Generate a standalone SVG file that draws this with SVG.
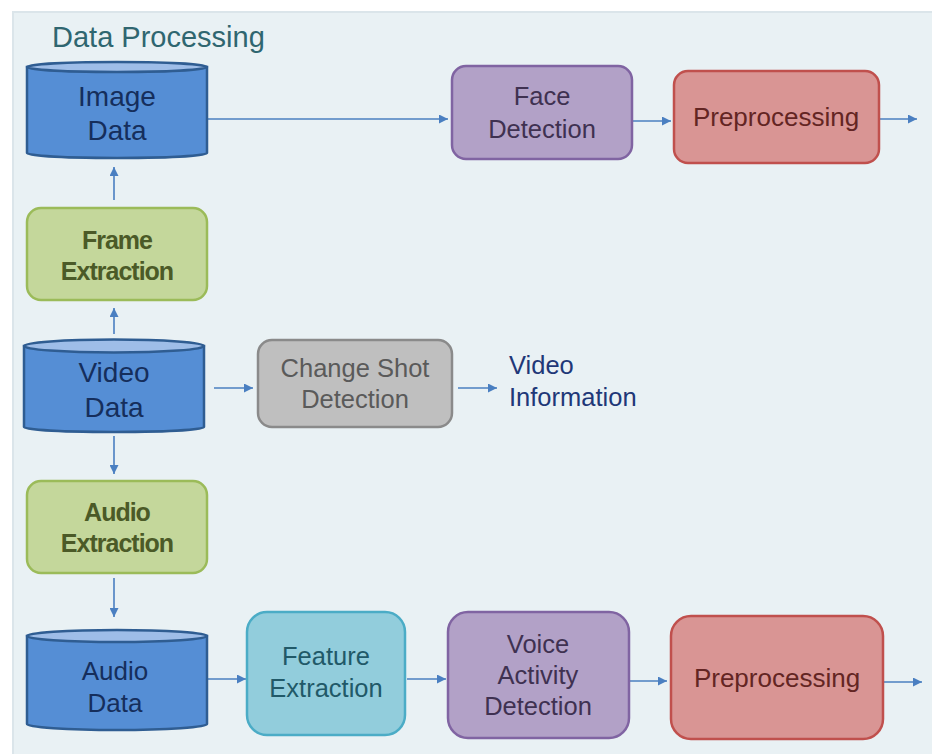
<svg xmlns="http://www.w3.org/2000/svg" width="932" height="754" viewBox="0 0 932 754">
  <defs>
    <marker id="arrow" viewBox="0 0 10 10" refX="10" refY="5" markerWidth="10" markerHeight="9" markerUnits="userSpaceOnUse" orient="auto">
      <path d="M0,0 L10,5 L0,10 z" fill="#4a7fc1"/>
    </marker>
    <style>
      text { font-family: "Liberation Sans", Arial, sans-serif; text-anchor: middle; }
      .conn { stroke: #4a7fc1; stroke-width: 1.6; fill: none; marker-end: url(#arrow); }
      .cyl-body { fill: #558ed5; stroke: #2f5d92; stroke-width: 2.5; }
      .cyl-top { fill: #9ebde8; stroke: #2f5d92; stroke-width: 2.5; }
      .cyl-text { fill: #152e5c; font-size: 28px; }
      .green { fill: #c4d79b; stroke: #9bbb59; stroke-width: 2.5; }
      .green-text { fill: #4b5a27; font-size: 25px; font-weight: bold; letter-spacing: -1px; }
      .grey { fill: #bfbfbf; stroke: #8a8a8a; stroke-width: 2.5; }
      .grey-text { fill: #5a5a5a; font-size: 25.5px; }
      .purple { fill: #b2a1c7; stroke: #8064a2; stroke-width: 2.5; }
      .purple-text { fill: #3f3151; font-size: 25.5px; }
      .red { fill: #d99594; stroke: #c0504d; stroke-width: 2.5; }
      .red-text { fill: #632523; font-size: 26px; }
      .cyan { fill: #92cddc; stroke: #4bacc6; stroke-width: 2.5; }
      .cyan-text { fill: #215968; font-size: 25.5px; }
    </style>
  </defs>

  <!-- page and panel -->
  <rect x="0" y="0" width="932" height="754" fill="#ffffff"/>
  <rect x="13" y="12" width="930" height="750" fill="#e9f1f4" stroke="#dbe5ea" stroke-width="2"/>

  <text x="52" y="47" style="text-anchor:start;font-size:29px;fill:#2f6670">Data Processing</text>

  <!-- connectors -->
  <g id="connectors">
    <line class="conn" x1="207" y1="119" x2="448" y2="119"/>
    <line class="conn" x1="632" y1="121" x2="671" y2="121"/>
    <line class="conn" x1="879" y1="119" x2="917" y2="119"/>
    <line class="conn" x1="114" y1="200" x2="114" y2="167"/>
    <line class="conn" x1="114" y1="334" x2="114" y2="308"/>
    <line class="conn" x1="214" y1="388" x2="253" y2="388"/>
    <line class="conn" x1="458" y1="388" x2="497" y2="388"/>
    <line class="conn" x1="114" y1="436" x2="114" y2="474"/>
    <line class="conn" x1="114" y1="578" x2="114" y2="617"/>
    <line class="conn" x1="207" y1="679" x2="246" y2="679"/>
    <line class="conn" x1="407" y1="679" x2="446" y2="679"/>
    <line class="conn" x1="629" y1="681" x2="667" y2="681"/>
    <line class="conn" x1="883" y1="682" x2="922" y2="682"/>
  </g>

  <!-- Image Data -->
  <g id="image-data">
    <path class="cyl-body" d="M27,67 L27,153 A90,5 0 0 0 207,153 L207,67 z"/>
    <ellipse class="cyl-top" cx="117" cy="67" rx="90" ry="5"/>
    <text class="cyl-text" x="117" y="106">Image</text>
    <text class="cyl-text" x="117" y="140">Data</text>
  </g>

  <!-- Frame Extraction -->
  <g id="frame-extraction">
    <rect class="green" x="27" y="208" width="180" height="92" rx="14"/>
    <text class="green-text" x="117" y="249">Frame</text>
    <text class="green-text" x="117" y="280">Extraction</text>
  </g>

  <!-- Video Data -->
  <g id="video-data">
    <path class="cyl-body" d="M24,346 L24,427 A90,5 0 0 0 204,427 L204,346 z"/>
    <ellipse class="cyl-top" cx="114" cy="346" rx="90" ry="6.5"/>
    <text class="cyl-text" x="114" y="382">Video</text>
    <text class="cyl-text" x="114" y="417">Data</text>
  </g>

  <!-- Change Shot Detection -->
  <g id="change-shot-detection">
    <rect class="grey" x="258" y="340" width="194" height="87" rx="14"/>
    <text class="grey-text" x="355" y="377">Change Shot</text>
    <text class="grey-text" x="355" y="408">Detection</text>
  </g>

  <!-- Video Information -->
  <g id="video-information">
    <text x="509" y="374" style="text-anchor:start;font-size:25.5px;fill:#1f3878">Video</text>
    <text x="509" y="406" style="text-anchor:start;font-size:25.5px;fill:#1f3878">Information</text>
  </g>

  <!-- Audio Extraction -->
  <g id="audio-extraction">
    <rect class="green" x="27" y="481" width="180" height="92" rx="14"/>
    <text class="green-text" x="117" y="521">Audio</text>
    <text class="green-text" x="117" y="552">Extraction</text>
  </g>

  <!-- Audio Data -->
  <g id="audio-data">
    <path class="cyl-body" d="M27,636 L27,724 A90,6 0 0 0 207,724 L207,636 z"/>
    <ellipse class="cyl-top" cx="117" cy="636" rx="90" ry="6"/>
    <text class="cyl-text" x="115" y="680" style="font-size:26px">Audio</text>
    <text class="cyl-text" x="115" y="712" style="font-size:26px">Data</text>
  </g>

  <!-- Face Detection -->
  <g id="face-detection">
    <rect class="purple" x="452" y="66" width="180" height="93" rx="14"/>
    <text class="purple-text" x="542" y="105">Face</text>
    <text class="purple-text" x="542" y="138">Detection</text>
  </g>

  <!-- Preprocessing (image branch) -->
  <g id="preprocessing-image">
    <rect class="red" x="674" y="71" width="205" height="92" rx="14"/>
    <text class="red-text" x="776" y="126">Preprocessing</text>
  </g>

  <!-- Feature Extraction -->
  <g id="feature-extraction">
    <rect class="cyan" x="247" y="612" width="158" height="123" rx="20"/>
    <text class="cyan-text" x="326" y="665">Feature</text>
    <text class="cyan-text" x="326" y="697">Extraction</text>
  </g>

  <!-- Voice Activity Detection -->
  <g id="voice-activity-detection">
    <rect class="purple" x="448" y="612" width="181" height="126" rx="20"/>
    <text class="purple-text" x="538" y="653">Voice</text>
    <text class="purple-text" x="538" y="684">Activity</text>
    <text class="purple-text" x="538" y="715">Detection</text>
  </g>

  <!-- Preprocessing (audio branch) -->
  <g id="preprocessing-audio">
    <rect class="red" x="671" y="616" width="212" height="123" rx="20"/>
    <text class="red-text" x="777" y="687">Preprocessing</text>
  </g>
</svg>
